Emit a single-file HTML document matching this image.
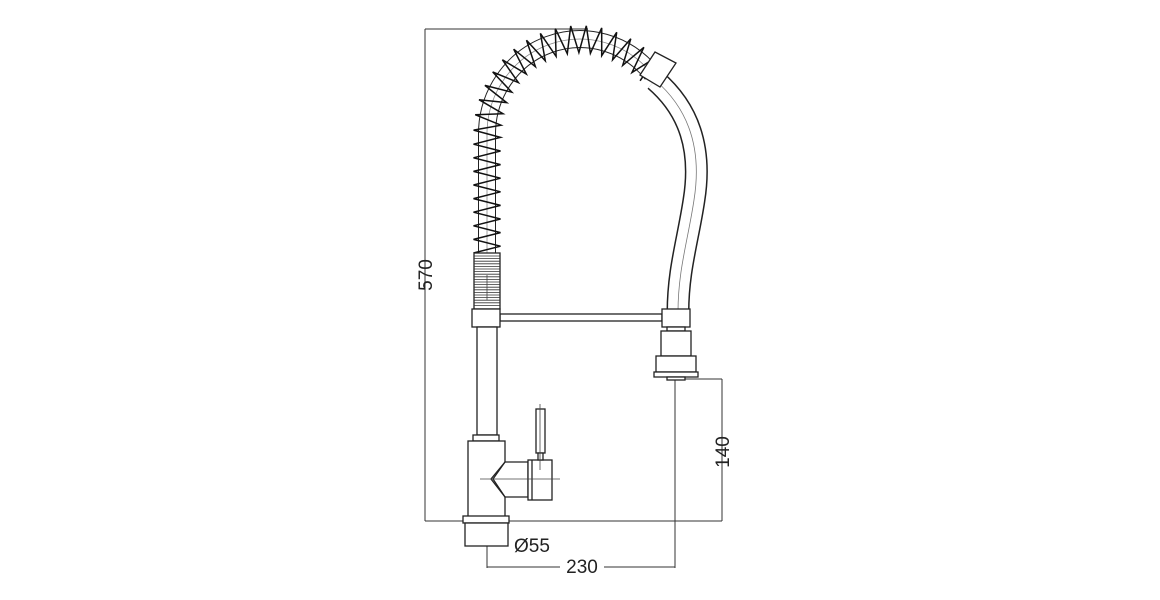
<!DOCTYPE html>
<html><head><meta charset="utf-8"><style>
html,body{margin:0;padding:0;background:#fff;width:1160px;height:600px;overflow:hidden}
svg{display:block}
text{font-family:"Liberation Sans",sans-serif;font-size:19px;fill:#222}
</style></head><body>
<svg id="s" width="1160" height="600" viewBox="0 0 1160 600" xmlns="http://www.w3.org/2000/svg">
<g fill="none" stroke="#333" stroke-width="1">
<line x1="425" y1="29" x2="588" y2="29"/>
<line x1="425" y1="29" x2="425" y2="521"/>
<line x1="425" y1="521" x2="722" y2="521"/>
<line x1="680" y1="379" x2="722" y2="379"/>
<line x1="722" y1="379" x2="722" y2="521"/>
<line x1="487" y1="330" x2="487" y2="568"/>
<line x1="675" y1="345" x2="675" y2="568"/>
<line x1="487" y1="567" x2="675" y2="567"/>
<line x1="465" y1="546" x2="508" y2="546"/>
</g>
<g fill="none">
<path d="M655 80 C690 110,702 150,694 200 C688 240,678 270,678 312" stroke-width="23" stroke="#222"/>
<path d="M655 80 C690 110,702 150,694 200 C688 240,678 270,678 312" stroke-width="20" stroke="#fff"/>
<path d="M655 80 C690 110,702 150,694 200 C688 240,678 270,678 312" stroke-width="0.8" stroke="#777"/>
<path id="arc" d="M487 253 L487 135 A93 95 0 0 1 652 74" stroke="#222" stroke-width="18"/>
<path d="M487 253 L487 135 A93 95 0 0 1 652 74" stroke="#fff" stroke-width="16"/>
<path d="M487 253 L487 135 A93 95 0 0 1 652 74" stroke="#888" stroke-width="0.8"/>
<g id="spring" stroke="#111" stroke-width="1.5"></g>
</g>
<g fill="#fff" stroke="#222" stroke-width="1.3">
<polygon points="640,75 655,52 676,63 660,87"/>
<rect x="474" y="253" width="26" height="56"/>
<g id="thr" stroke="#333" stroke-width="0.8"></g>
<rect x="500" y="314" width="162" height="7"/>
<rect x="472" y="309" width="28" height="18"/>
<rect x="662" y="309" width="28" height="18"/>
<rect x="667" y="327" width="18" height="4"/>
<rect x="661" y="331" width="30" height="25"/>
<rect x="656" y="356" width="40" height="16"/>
<rect x="654" y="372" width="44" height="5"/>
<rect x="667" y="377" width="18" height="3"/>
<rect x="477" y="327" width="20" height="108"/>
<rect x="473" y="435" width="26" height="6"/>
<rect x="468" y="441" width="37" height="76"/>
<rect x="463" y="516" width="46" height="7"/>
<rect x="465" y="523" width="43" height="23"/>
<path d="M505 462 L528 462 L528 497 L505 497 L493 479 Z"/>
<path d="M505 462 L491 479 L505 497" fill="none"/>
<rect x="528" y="460" width="24" height="40"/>
<line x1="532" y1="460" x2="532" y2="500"/>
<rect x="536" y="409" width="9" height="44"/>
<rect x="538" y="453" width="5" height="7"/>
</g>
<g stroke="#444" stroke-width="0.8">
<line x1="487" y1="275" x2="487" y2="300"/>
<line x1="480" y1="479" x2="560" y2="479"/>
<line x1="540" y1="404" x2="540" y2="470"/>
</g>
<text x="432" y="275" text-anchor="middle" transform="rotate(-90 432 275)">570</text>
<text x="729" y="452" text-anchor="middle" transform="rotate(-90 729 452)">140</text>
<rect x="560" y="556" width="44" height="18" fill="#fff"/>
<text x="582" y="573" text-anchor="middle">230</text>
<text x="514" y="552">Ø55</text>
</svg>
<script>
(function(){
var ns="http://www.w3.org/2000/svg";
var arc=document.getElementById('arc');
var L=arc.getTotalLength();
var g=document.getElementById('spring');
var step=6.8, amp=13.5, d="";
var n=Math.floor(L/step);
for(var i=0;i<=n;i++){
 var s=i*step; var p=arc.getPointAtLength(s);
 var q=arc.getPointAtLength(Math.min(L,s+0.5)), r=arc.getPointAtLength(Math.max(0,s-0.5));
 var tx=q.x-r.x, ty=q.y-r.y, m=Math.hypot(tx,ty)||1; tx/=m; ty/=m;
 var nx=-ty, ny=tx, sg=(i%2?1:-1);
 d+=(i?"L":"M")+(p.x+nx*amp*sg).toFixed(1)+" "+(p.y+ny*amp*sg).toFixed(1);
}
var pa=document.createElementNS(ns,'path');pa.setAttribute('d',d);g.appendChild(pa);
var t=document.getElementById('thr');
for(var y=256;y<308;y+=2.6){var l=document.createElementNS(ns,'line');
l.setAttribute('x1',474);l.setAttribute('x2',500);l.setAttribute('y1',y);l.setAttribute('y2',y);t.appendChild(l);}
})();
</script>
</body></html>
